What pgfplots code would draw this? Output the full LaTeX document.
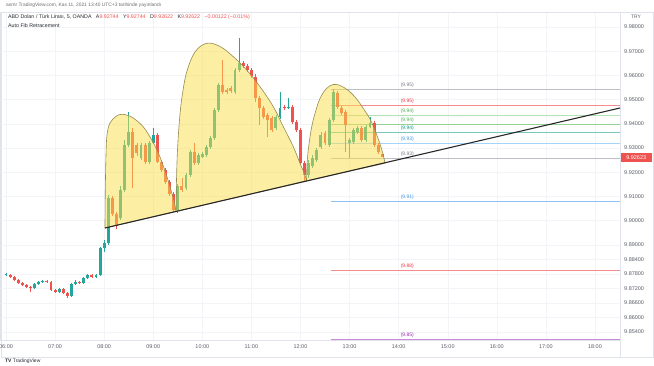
\documentclass[border=0pt]{standalone}
\usepackage{fontspec}
\setmainfont{Liberation Sans}
\usepackage{pgfplots}
\pgfplotsset{compat=1.18}
\usepackage{pgfplotstable}

\definecolor{tvup}{RGB}{38,166,154}
\definecolor{tvdn}{RGB}{239,83,80}
\definecolor{arcfill}{RGB}{250,222,70}
\definecolor{arcline}{RGB}{150,140,80}
\definecolor{trendc}{RGB}{40,40,40}
\definecolor{sepc}{RGB}{224,227,235}
\definecolor{gridc}{RGB}{243,244,248}
\definecolor{axtxt}{RGB}{90,94,104}
\definecolor{txt}{RGB}{40,44,52}
\definecolor{hdr}{RGB}{110,110,115}
\definecolor{fgrey}{RGB}{190,192,198}
\definecolor{fred}{RGB}{246,140,146}
\definecolor{flgreen}{RGB}{180,225,182}
\definecolor{fgreen}{RGB}{150,210,152}
\definecolor{fteal}{RGB}{120,200,185}
\definecolor{flblue}{RGB}{165,212,250}
\definecolor{fblue}{RGB}{140,195,245}
\definecolor{fpurple}{RGB}{200,140,215}
\definecolor{fgreytxt}{RGB}{120,123,134}
\definecolor{fredtxt}{RGB}{242,54,69}
\definecolor{fgreentxt}{RGB}{76,175,80}
\definecolor{ftealtxt}{RGB}{8,153,129}
\definecolor{fbluetxt}{RGB}{66,150,230}
\definecolor{fpurpletxt}{RGB}{156,39,176}

\pgfplotstableread{
t o h l c
6.0000 9.87752 9.87835 9.87711 9.87794
6.5833 9.87215 9.87422 9.87174 9.87380
6.6667 9.87380 9.87504 9.87339 9.87463
6.7500 9.87463 9.87546 9.87422 9.87504
7.0833 9.87050 9.87215 9.87008 9.87174
7.3333 9.86884 9.87422 9.86843 9.87380
7.4167 9.87380 9.87546 9.87339 9.87463
7.5833 9.87422 9.87670 9.87380 9.87628
7.6667 9.87628 9.87794 9.87587 9.87752
7.8333 9.87670 9.87794 9.87628 9.87752
7.9167 9.87752 9.88909 9.87711 9.88868
8.0000 9.88868 9.89198 9.88703 9.89074
8.0833 9.89074 9.91058 9.88992 9.90934
8.3333 9.90108 9.91430 9.90025 9.91265
8.4167 9.91265 9.93331 9.91182 9.93124
8.5000 9.93124 9.94488 9.93041 9.93661
8.7500 9.92587 9.93207 9.92504 9.93124
8.9167 9.92422 9.93289 9.92339 9.93207
9.0000 9.93207 9.93827 9.93165 9.93537
9.5000 9.90438 9.91512 9.90314 9.91430
9.6667 9.91347 9.91967 9.91265 9.91884
9.7500 9.91884 9.92917 9.91802 9.92835
9.9167 9.92380 9.92793 9.92298 9.92711
10.0000 9.92628 9.92835 9.92587 9.92752
10.0833 9.92711 9.93124 9.92628 9.93041
10.1667 9.93041 9.93496 9.92959 9.93413
10.2500 9.93413 9.94653 9.93331 9.94570
10.3333 9.94570 9.95686 9.94488 9.95603
10.6667 9.95314 9.96306 9.95231 9.96223
10.7500 9.96223 9.97546 9.96141 9.96512
11.5000 9.93827 9.94364 9.93744 9.94281
11.5833 9.94281 9.95314 9.94198 9.94653
11.7500 9.94653 9.95066 9.94612 9.94694
12.1667 9.91884 9.92504 9.91760 9.92380
12.2500 9.92256 9.92711 9.92174 9.92587
12.3333 9.92504 9.93000 9.92422 9.92917
12.4167 9.93041 9.93661 9.92959 9.93537
12.5833 9.93124 9.94240 9.93041 9.94157
12.6667 9.94157 9.95430 9.94074 9.95314
13.0000 9.93207 9.93413 9.92570 9.93331
13.0833 9.93248 9.93827 9.93165 9.93744
13.1667 9.93661 9.93909 9.93579 9.93827
13.3333 9.93331 9.93950 9.93248 9.93868
13.4167 9.93868 9.94281 9.93827 9.94033
}\upc

\pgfplotstableread{
t o h l c
6.0833 9.87752 9.87794 9.87628 9.87670
6.1667 9.87670 9.87711 9.87504 9.87546
6.2500 9.87546 9.87587 9.87380 9.87422
6.3333 9.87422 9.87463 9.87298 9.87339
6.4167 9.87339 9.87380 9.87215 9.87256
6.5000 9.87256 9.87298 9.87050 9.87215
6.8333 9.87504 9.87546 9.87422 9.87463
6.9167 9.87463 9.87504 9.87091 9.87132
7.0000 9.87132 9.87174 9.87008 9.87050
7.1667 9.87174 9.87215 9.86967 9.87008
7.2500 9.87008 9.87050 9.86802 9.86884
7.5000 9.87463 9.87504 9.87380 9.87422
7.7500 9.87752 9.87794 9.87628 9.87670
8.1667 9.90934 9.91017 9.90190 9.90273
8.2500 9.90273 9.90355 9.89653 9.89777
8.5833 9.93661 9.93827 9.91347 9.92587
8.6667 9.93124 9.93207 9.92670 9.92793
8.8333 9.93124 9.93207 9.92339 9.92422
9.0833 9.93537 9.93620 9.92380 9.92422
9.1667 9.92422 9.92504 9.92008 9.92091
9.2500 9.92091 9.92174 9.91512 9.91595
9.3333 9.91595 9.91678 9.91017 9.91099
9.4167 9.91099 9.91182 9.90355 9.90438
9.5833 9.91430 9.91760 9.91182 9.91265
9.8333 9.92835 9.93207 9.92298 9.92380
10.4167 9.95603 9.96636 9.95231 9.95314
10.5000 9.95397 9.95479 9.95231 9.95314
10.5833 9.95479 9.95562 9.95273 9.95355
10.8333 9.96512 9.96595 9.96306 9.96388
10.9167 9.96388 9.96471 9.96141 9.96223
11.0000 9.96223 9.96306 9.95893 9.95975
11.0833 9.95934 9.96058 9.94901 9.95066
11.1667 9.95066 9.95149 9.93950 9.94653
11.2500 9.94653 9.94736 9.94198 9.94281
11.3333 9.94364 9.94446 9.93455 9.94157
11.4167 9.94240 9.94322 9.93661 9.93744
11.6667 9.94694 9.94777 9.94570 9.94653
11.8333 9.94694 9.94777 9.93992 9.94074
11.9167 9.94074 9.94157 9.93661 9.93744
12.0000 9.93744 9.93827 9.92298 9.92380
12.0833 9.92380 9.92463 9.91636 9.91884
12.5000 9.93620 9.93703 9.93124 9.93207
12.7500 9.95273 9.95355 9.94612 9.94694
12.8333 9.94653 9.94736 9.94364 9.94446
12.9167 9.94488 9.94570 9.92835 9.93950
13.2500 9.93827 9.93909 9.93248 9.93331
13.5000 9.94033 9.94116 9.93041 9.93124
13.5833 9.93124 9.93207 9.92752 9.92835
13.6667 9.92744 9.92744 9.92622 9.92622
}\dnc

\newcommand{\fs}[1]{\fontsize{#1}{#1}\selectfont}

\begin{document}
\begin{tikzpicture}
\useasboundingbox (0,0) rectangle (654bp,366bp);
\fill[white] (0,0) rectangle (654bp,366bp);
\draw[sepc, line width=0.5bp] (1bp,9bp) rectangle (653bp,354bp);
\draw[sepc, line width=0.5bp] (620bp,9bp) -- (620bp,26bp);
\begin{axis}[
  at={(0bp,26bp)}, anchor=south west,
  width=620bp, height=328bp, scale only axis,
  xmin=5.8778, xmax=18.5102, ymin=9.850662, ymax=9.986198,
  axis line style={draw=sepc, line width=0.5bp},
  xtick={6,7,...,18},
  xticklabels={06:00,07:00,08:00,09:00,10:00,11:00,12:00,13:00,14:00,15:00,16:00,17:00,18:00},
  ytick={9.854,9.86,9.866,9.872,9.878,9.884,9.89,9.9,9.91,9.92,9.93,9.94,9.95,9.96,9.97,9.98},
  yticklabel pos=right,
  yticklabel={\pgfmathprintnumber[fixed,fixed zerofill,precision=5,assume math mode=true]{\tick}},
  y tick label style={anchor=west, xshift=4bp, inner sep=0pt, font=\fs{5.5}, text=axtxt},
  x tick label style={anchor=north, yshift=-4.5bp, inner sep=0pt, font=\fs{5.5}, text=axtxt},
  tick style={draw=none},
  grid=major, major grid style={draw=gridc, line width=0.4bp},
  candle/.style={draw=none, mark=none, error bars/.cd, y dir=minus, y explicit, error mark=none},
  fib/.style={draw=#1, line width=0.45bp, mark=none},
]
% Fibonacci levels
\addplot[fib=fgrey] coordinates {(12.62,9.95430) (18.5102,9.95430)};
\addplot[fib=fred] coordinates {(12.62,9.94755) (18.5102,9.94755)};
\addplot[fib=flgreen] coordinates {(12.62,9.94337) (18.5102,9.94337)};
\addplot[fib=fgreen] coordinates {(12.62,9.94000) (18.5102,9.94000)};
\addplot[fib=fteal] coordinates {(12.62,9.93663) (18.5102,9.93663)};
\addplot[fib=flblue] coordinates {(12.62,9.93182) (18.5102,9.93182)};
\addplot[fib=fgrey] coordinates {(12.62,9.92570) (18.5102,9.92570)};
\addplot[fib=fblue] coordinates {(12.62,9.90803) (18.5102,9.90803)};
\addplot[fib=fred] coordinates {(12.62,9.87943) (18.5102,9.87943)};
\addplot[fib=fpurple] coordinates {(12.62,9.85083) (18.5102,9.85083)};
% candles: wicks
\addplot[candle, error bar style={draw=tvup, line width=0.7bp}]
  table[x=t, y=h, y error minus expr=\thisrow{h}-\thisrow{l}] {\upc};
\addplot[candle, error bar style={draw=tvdn, line width=0.7bp}]
  table[x=t, y=h, y error minus expr=\thisrow{h}-\thisrow{l}] {\dnc};
% candles: bodies
\addplot[candle, error bar style={draw=tvup, line width=2.9bp}]
  table[x=t, y=c, y error minus expr=\thisrow{c}-\thisrow{o}] {\upc};
\addplot[candle, error bar style={draw=tvdn, line width=2.9bp}]
  table[x=t, y=o, y error minus expr=\thisrow{o}-\thisrow{c}] {\dnc};
% arcs
\addplot[draw=arcline, line width=0.6bp, fill=arcfill, fill opacity=0.5, smooth, tension=0.6, mark=none] coordinates {
(8.0171,9.89694) (8.0232,9.91265) (8.0375,9.92711) (8.0579,9.93537) (8.1190,9.94033) (8.2514,9.94322) (8.3635,9.94393) (8.4857,9.94343) (8.6080,9.94219) (8.7914,9.93889) (8.9340,9.93455) (9.0359,9.93083) (9.1378,9.92628) (9.2193,9.92174) (9.3007,9.91678) (9.3721,9.91182) (9.4332,9.90727) (9.4637,9.90376)} -- cycle;
\addplot[draw=arcline, line width=0.6bp, fill=arcfill, fill opacity=0.5, smooth, tension=0.6, mark=none] coordinates {
(9.4637,9.90376) (9.4739,9.91678) (9.4943,9.92917) (9.5350,9.94157) (9.5860,9.95108) (9.6818,9.96141) (9.8509,9.96967) (10.0892,9.97327) (10.3602,9.97194) (10.6312,9.96773) (10.9042,9.96223) (11.1752,9.95533) (11.4462,9.94707) (11.6500,9.93880) (11.8537,9.93054) (11.9902,9.92368) (12.0819,9.91926) (12.1226,9.91645)} -- cycle;
\addplot[draw=arcline, line width=0.6bp, fill=arcfill, fill opacity=0.5, smooth, tension=0.6, mark=none] coordinates {
(12.1226,9.91645) (12.1328,9.92298) (12.1634,9.93000) (12.2245,9.93827) (12.2958,9.94426) (12.3977,9.95046) (12.5302,9.95459) (12.6687,9.95624) (12.8052,9.95583) (12.9743,9.95376) (13.1455,9.95025) (13.2800,9.94632) (13.4165,9.94198) (13.5183,9.93723) (13.6100,9.93227) (13.6813,9.92752) (13.7221,9.92372)} -- cycle;
% trend line
\addplot[trendc, line width=1.1bp, mark=none] coordinates {(8.0171,9.89694) (18.5102,9.94653)};
% fib labels
\begin{scope}[every node/.style={anchor=south west, inner sep=0pt, font=\fs{5}, yshift=1.5bp}]
\node[text=fgreytxt] at (axis cs:14.04,9.95430) {(9.95)};
\node[text=fredtxt] at (axis cs:14.04,9.94755) {(9.95)};
\node[text=fgreentxt] at (axis cs:14.04,9.94337) {(9.94)};
\node[text=fgreentxt] at (axis cs:14.04,9.94000) {(9.94)};
\node[text=ftealtxt] at (axis cs:14.04,9.93663) {(9.94)};
\node[text=fbluetxt] at (axis cs:14.04,9.93182) {(9.93)};
\node[text=fgreytxt] at (axis cs:14.04,9.92570) {(9.93)};
\node[text=fbluetxt] at (axis cs:14.04,9.90803) {(9.91)};
\node[text=fredtxt] at (axis cs:14.04,9.87943) {(9.88)};
\node[text=fpurpletxt] at (axis cs:14.04,9.85083) {(9.85)};
\end{scope}
\coordinate (lastp) at (axis cs:18.5102,9.92623);
\end{axis}
\node[anchor=west, fill=tvdn, text=white, inner sep=0pt, minimum width=31bp, minimum height=9bp, font=\fs{5.5}] at ([xshift=0.5bp]lastp) {9.92623};
\node[anchor=west, inner sep=0pt, font=\fs{4.9}, text=hdr] at (6bp,361bp) {asrnr TradingView.com, Kas 11, 2021 13:40 UTC+3 tarihinde yayınlandı};
\node[anchor=west, inner sep=0pt, font=\fs{5.3}, text=txt] at (8bp,349bp) {ABD Doları / Türk Lirası, 5, OANDA\hspace{3bp} A\textcolor{tvdn}{9.92744}\hspace{3bp} Y\textcolor{tvdn}{9.92744}\hspace{3bp} D\textcolor{tvdn}{9.92622}\hspace{3bp} K\textcolor{tvdn}{9.92622}\hspace{3bp} \textcolor{tvdn}{−0.00122 (−0.01\%)}};
\node[anchor=west, inner sep=0pt, font=\fs{5.3}, text=txt] at (8bp,340bp) {Auto Fib Retracement};
\node[inner sep=0pt, font=\fs{5}, text=axtxt] at (636bp,349bp) {TRY};
\node[anchor=west, inner sep=0pt, font=\fs{5}, text=txt] at (5bp,4.5bp) {\textbf{TV} TradingView};
\end{tikzpicture}
\end{document}
